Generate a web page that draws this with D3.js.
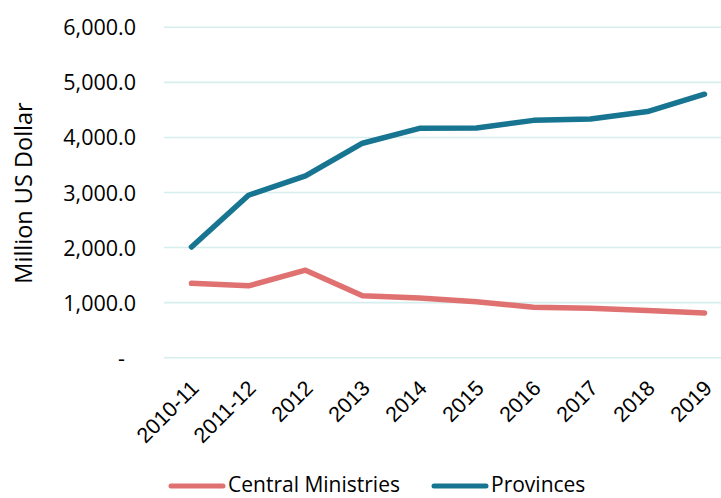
<!DOCTYPE html>
<html>
<head>
<meta charset="utf-8">
<script src="https://cdn.jsdelivr.net/npm/d3@7"></script>
<style>
  html, body { margin: 0; padding: 0; background: #fff; }
  svg { display: block; font-family: "Open Sans", "Noto Sans", sans-serif; }
</style>
</head>
<body>
<svg id="chart" width="721" height="498"></svg>
<script>
// Spending by level of government, million US dollars
const years = ["2010-11", "2011-12", "2012", "2013", "2014", "2015", "2016", "2017", "2018", "2019"];
const centralMinistries = [1350, 1305, 1590, 1125, 1085, 1015, 915, 900, 855, 812];
const provinces = [2010, 2950, 3300, 3895, 4165, 4170, 4310, 4335, 4470, 4785];
const yTicks = [0, 1000, 2000, 3000, 4000, 5000, 6000];

const seriesList = [
  { name: "Central Ministries", values: centralMinistries, color: "#e07171" },
  { name: "Provinces", values: provinces, color: "#177591" }
];

const svg = d3.select("#chart");
const plotLeft = 164, plotRight = 721;

const x = d3.scalePoint().domain(years).range([163, 733]).padding(0.5);
const y = d3.scaleLinear().domain([0, 6000]).range([357.7, 27.3]);

// horizontal gridlines
svg.append("g")
  .selectAll("line")
  .data(yTicks)
  .join("line")
  .attr("x1", plotLeft).attr("x2", plotRight)
  .attr("y1", d => y(d)).attr("y2", d => y(d))
  .attr("stroke", "#d6eeee").attr("stroke-width", 1.6);

// y axis labels
const fmt = d3.format(",.1f");
const yAxis = svg.append("g")
  .attr("transform", `translate(136,0)`)
  .call(d3.axisLeft(y).tickValues(yTicks).tickSize(0).tickPadding(0)
    .tickFormat(d => d === 0 ? "-" : fmt(d)));
yAxis.select(".domain").remove();
yAxis.selectAll("text")
  .attr("font-size", 21.5).attr("fill", "#000")
  .attr("font-family", "Open Sans, sans-serif")
  .attr("dy", "0.35em")
  .attr("x", d => d === 0 ? -11 : 0);

// y axis title
svg.append("text")
  .attr("transform", "translate(32,193) rotate(-90)")
  .attr("text-anchor", "middle")
  .attr("font-size", 23.5)
  .attr("fill", "#000")
  .text("Million US Dollar");

// x axis labels, rotated
const xAxis = svg.append("g")
  .attr("transform", `translate(0,387)`)
  .call(d3.axisBottom(x).tickSize(0).tickPadding(0));
xAxis.select(".domain").remove();
xAxis.selectAll("text")
  .attr("font-size", 21.5).attr("fill", "#000")
  .attr("text-anchor", "end")
  .attr("dy", "0.35em")
  .attr("transform", "rotate(-45) translate(4,0)");

// lines
const line = d3.line()
  .x((d, i) => x(years[i]))
  .y(d => y(d));

svg.append("g")
  .selectAll("path")
  .data(seriesList)
  .join("path")
  .attr("d", s => line(s.values))
  .attr("fill", "none")
  .attr("stroke", s => s.color)
  .attr("stroke-width", 5.5)
  .attr("stroke-linecap", "round")
  .attr("stroke-linejoin", "round");

// legend
const legendItems = [
  { s: seriesList[0], x0: 171, tx: 228 },
  { s: seriesList[1], x0: 434, tx: 491 }
];
const lg = svg.append("g").selectAll("g").data(legendItems).join("g");
lg.append("line")
  .attr("x1", d => d.x0).attr("x2", d => d.x0 + 52)
  .attr("y1", 486).attr("y2", 486)
  .attr("stroke", d => d.s.color).attr("stroke-width", 5)
  .attr("stroke-linecap", "round");
lg.append("text")
  .attr("x", d => d.tx).attr("y", 492)
  .attr("font-size", 21).attr("fill", "#000")
  .text(d => d.s.name);
</script>
</body>
</html>
